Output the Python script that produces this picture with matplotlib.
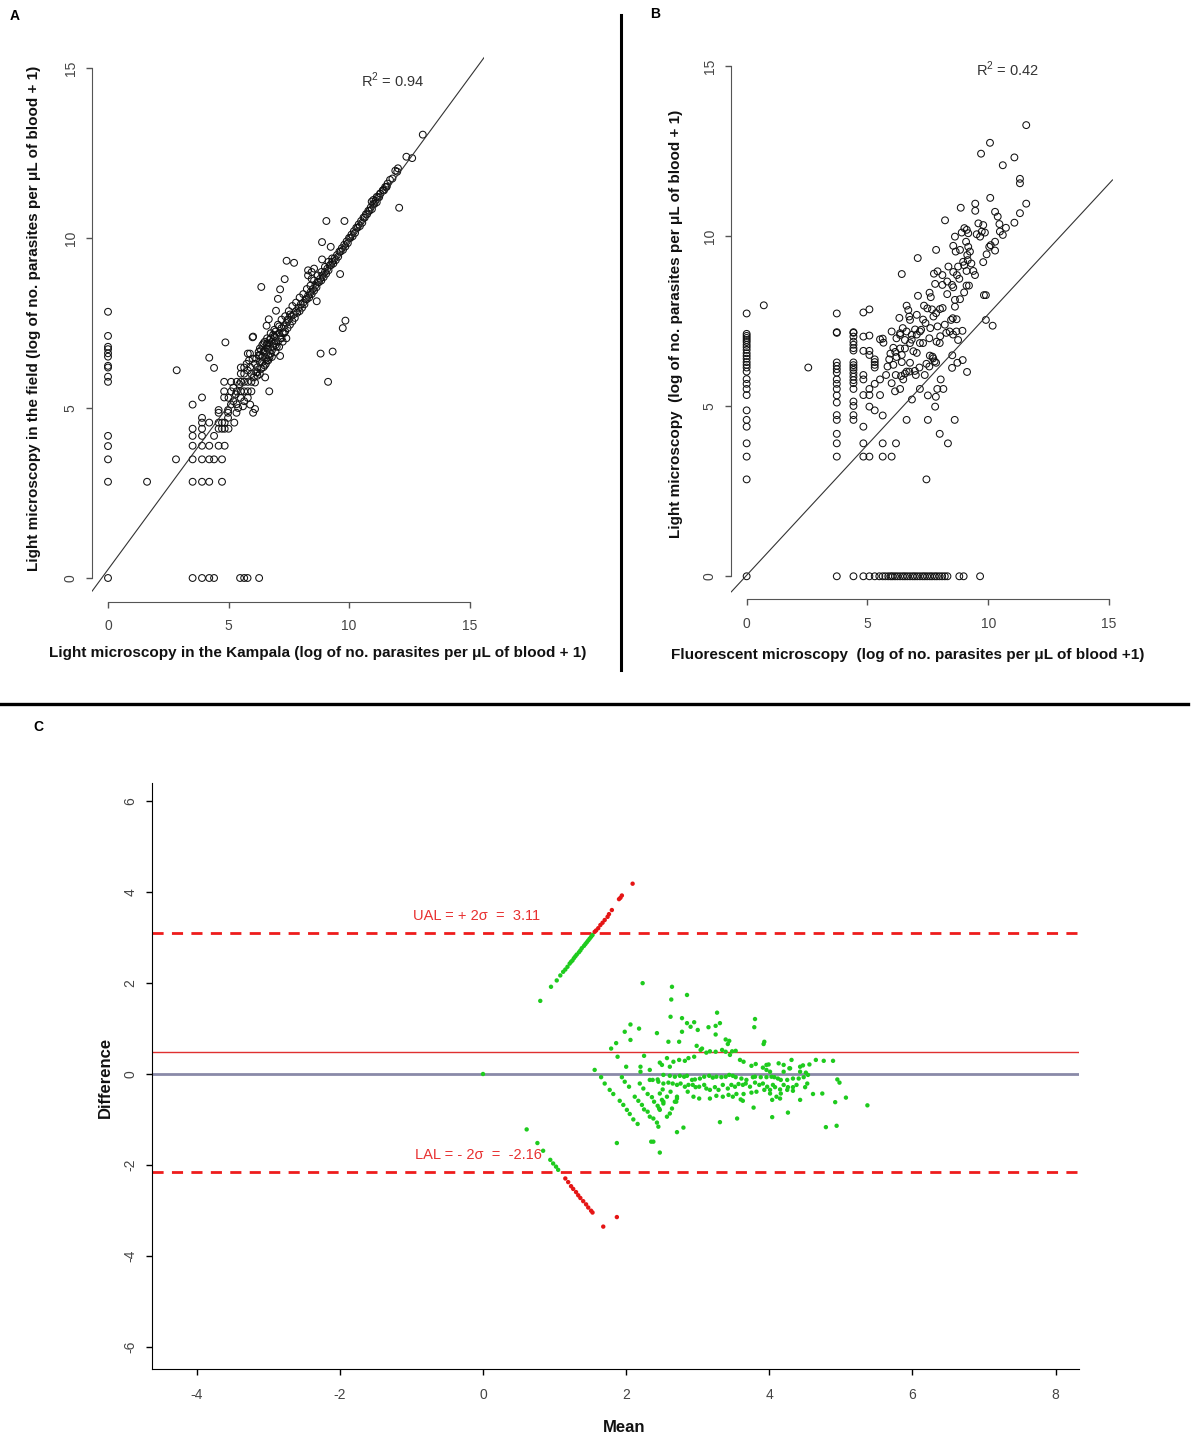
import matplotlib
matplotlib.use("Agg")
import matplotlib.pyplot as plt
from matplotlib.lines import Line2D

plt.rcParams["font.family"] = ["Liberation Sans", "DejaVu Sans"]
plt.rcParams["mathtext.fontset"] = "custom"
plt.rcParams["mathtext.rm"] = "Liberation Sans"
plt.rcParams["axes.unicode_minus"] = False

# ---------------- panel A : field vs Kampala light microscopy ----------------
a_col0_field = [7.83, 7.12, 6.80, 6.73, 6.61, 6.51, 6.24, 6.19, 5.92, 5.77,
                4.18, 3.88, 3.49, 2.83, 0.0]
a_row0_kampala = [3.51, 3.90, 4.20, 4.40, 5.48, 5.65, 5.79, 6.27]
a_spread = [(2.85, 6.11), (1.62, 2.83), (2.82, 3.49), (3.51, 5.10), (3.90, 5.31), (3.51, 4.39),
            (3.90, 4.39), (3.90, 4.57), (3.90, 4.71), (4.20, 4.57), (3.51, 4.18), (3.90, 4.18),
            (4.40, 4.18), (3.51, 3.89), (3.90, 3.89), (4.20, 3.89), (4.59, 3.89), (4.84, 3.89),
            (3.51, 3.49), (3.90, 3.49), (4.20, 3.49), (4.40, 3.49), (4.73, 3.49), (3.51, 2.83),
            (3.90, 2.83), (4.20, 2.83), (4.73, 2.83), (4.59, 4.94), (4.59, 4.86), (4.98, 4.94),
            (4.98, 4.86), (4.98, 4.71), (4.59, 4.57), (4.73, 4.57), (4.84, 4.57), (4.59, 4.39),
            (4.73, 4.39), (4.84, 4.39), (5.00, 4.39), (5.24, 4.57), (5.33, 4.86), (5.33, 5.11),
            (4.82, 5.77), (5.11, 5.77), (5.34, 5.77), (5.51, 5.77), (4.82, 5.49), (5.11, 5.49),
            (5.34, 5.49), (5.51, 5.49), (4.82, 5.31), (5.51, 6.19), (5.51, 6.01), (4.20, 6.48),
            (4.40, 6.18), (4.87, 6.93), (6.00, 7.08), (6.02, 7.10), (5.89, 6.60), (6.36, 8.56),
            (6.67, 7.61), (6.58, 7.42), (6.97, 7.86), (7.05, 8.21), (7.14, 8.49), (7.33, 8.79),
            (7.41, 9.33), (7.72, 9.27), (8.30, 9.05), (8.30, 8.90), (8.45, 9.00), (8.55, 9.10),
            (8.45, 8.80), (8.88, 9.88), (9.24, 9.74), (8.88, 9.37), (8.66, 8.14), (9.63, 8.94),
            (9.85, 7.57), (9.74, 7.35), (8.82, 6.60), (9.32, 6.66), (9.13, 5.77), (7.14, 6.53),
            (6.69, 5.49), (6.10, 4.97), (6.02, 4.86), (6.52, 5.90), (9.06, 10.50), (9.81, 10.50),
            (12.08, 10.89), (13.06, 13.04), (12.38, 12.39), (12.62, 12.35), (12.03, 12.05),
            (11.92, 11.98), (5.80, 6.60)]
a_cluster = [(5.65, 5.77), (5.80, 5.77), (5.95, 5.77), (5.65, 5.49), (5.80, 5.49), (5.95, 5.49),
             (5.50, 5.30), (5.65, 5.20), (5.80, 5.30), (5.90, 5.10), (5.60, 5.05), (5.40, 5.00),
             (5.65, 6.01), (5.80, 6.10), (5.90, 6.20), (5.95, 6.00), (6.05, 5.90), (6.15, 6.05),
             (5.65, 6.19), (5.75, 6.30), (5.85, 6.40), (6.00, 6.45), (6.10, 6.30), (6.20, 6.20),
             (6.30, 6.35), (6.25, 6.55), (6.40, 6.50), (6.35, 6.70), (6.50, 6.65), (6.10, 5.75),
             (6.20, 5.95), (5.20, 5.20), (5.30, 5.40), (5.10, 5.10), (5.00, 5.30), (5.20, 5.60),
             (5.45, 5.70), (6.30, 6.00), (6.45, 6.20), (6.60, 6.40), (6.60, 6.90), (6.70, 7.00),
             (6.80, 6.70), (6.90, 6.90), (7.00, 6.80), (6.55, 6.30), (6.70, 6.50),
             (6.15, 6.45), (6.25, 6.65), (6.40, 6.85), (6.50, 6.95), (6.65, 6.75), (6.85, 7.15),
             (6.95, 7.25), (7.10, 7.40), (7.20, 7.05), (7.30, 7.20), (7.45, 7.60), (7.55, 7.75)]
a_band_kampala = [6.5, 6.6, 6.7, 6.8, 6.9, 7.0, 7.1, 7.2, 7.3, 7.4, 7.5, 7.6, 7.7, 7.8, 7.9,
                  8.0, 8.1, 8.2, 8.3, 8.4, 8.5, 8.6, 8.7, 8.8, 8.9, 9.0, 9.1, 9.2, 9.3, 9.4,
                  9.5, 9.6, 9.7, 9.8, 9.9, 10.0, 10.1, 10.2, 10.3, 10.4, 10.5, 10.6, 10.7,
                  10.8, 10.9, 11.0, 11.1, 11.2, 11.3, 11.4, 11.5, 11.6, 11.8, 12.0,
                  6.4, 6.55, 6.65, 6.75, 6.85, 6.95, 7.05, 7.15, 7.25, 7.35, 7.45, 7.55, 7.65,
                  7.75, 7.85, 7.95, 8.05, 8.15, 8.25, 8.35, 8.45, 8.55, 8.65, 8.75, 8.85, 8.95,
                  9.05, 9.15, 9.25, 9.35, 9.45, 9.55, 9.65, 9.75, 9.85, 9.95, 10.05, 10.15,
                  10.25, 10.35, 10.45, 10.55, 10.65, 10.75, 10.85, 10.95, 11.05, 11.15, 11.25,
                  11.45, 11.55,
                  6.3, 6.45, 6.6, 6.75, 6.9, 7.05, 7.2, 7.35, 7.5, 7.65, 7.8, 7.95, 8.1, 8.25,
                  8.4, 8.55, 8.7, 8.85, 9.0, 9.15, 9.3,
                  6.2, 6.35, 6.5, 6.65, 6.8, 6.95, 7.1, 7.25, 7.4, 6.3, 6.45, 6.6, 6.75, 6.9,
                  11.7, 11.56, 11.42, 11.29, 11.15, 11.01, 10.94]
a_band_field = [6.7, 6.75, 6.9, 6.95, 7.1, 7.15, 7.2, 7.35, 7.4, 7.5, 7.6, 7.7, 7.75, 7.85, 7.95,
                8.05, 8.1, 8.2, 8.3, 8.4, 8.5, 8.6, 8.7, 8.8, 8.9, 9.0, 9.1, 9.2, 9.3, 9.4,
                9.5, 9.6, 9.7, 9.8, 9.9, 10.0, 10.1, 10.2, 10.3, 10.4, 10.5, 10.6, 10.7,
                10.8, 10.9, 11.0, 11.1, 11.2, 11.3, 11.4, 11.5, 11.6, 11.75, 11.95,
                6.35, 6.45, 6.55, 6.6, 6.8, 6.85, 6.95, 7.05, 7.2, 7.25, 7.35, 7.45, 7.55,
                7.65, 7.8, 7.85, 7.95, 8.05, 8.2, 8.25, 8.35, 8.45, 8.55, 8.7, 8.75, 8.85,
                8.95, 9.05, 9.2, 9.25, 9.35, 9.45, 9.6, 9.65, 9.75, 9.85, 10.0, 10.05,
                10.15, 10.3, 10.35, 10.45, 10.6, 10.7, 10.8, 10.85, 11.0, 11.05, 11.2,
                11.4, 11.5,
                6.75, 6.9, 7.05, 7.2, 7.3, 7.45, 7.6, 7.7, 7.85, 8.0, 8.1, 8.25, 8.35, 8.5,
                8.6, 8.75, 8.9, 9.0, 9.15, 9.3, 9.4,
                6.05, 6.15, 6.25, 6.4, 6.5, 6.65, 6.8, 6.95, 7.05, 6.55, 6.65, 6.85, 7.05, 7.1,
                11.71, 11.51, 11.41, 11.31, 11.21, 11.12, 11.07]
a_fit = (0.25, 0.965)   # intercept, slope
a_r2 = "0.94"

# ---------------- panel B : light vs fluorescent microscopy ----------------
b_col0_light = [7.73, 7.13, 7.07, 7.01, 6.95, 6.89, 6.81, 6.74, 6.66, 6.56, 6.48, 6.40, 6.30,
                6.22, 6.14, 6.02, 5.80, 5.66, 5.51, 5.33, 4.88, 4.60, 4.40, 3.91, 3.52, 2.85, 0.0]
b_row0_fluor = [3.73, 4.42, 4.83, 5.08, 5.30, 5.49, 5.63, 5.74, 5.86, 5.96, 6.04, 6.14, 6.24,
                6.35, 6.46, 6.55, 6.65, 6.76, 6.87, 6.96, 7.06, 7.17, 7.28, 7.37, 7.47, 7.58,
                7.67, 7.78, 7.87, 7.98, 8.09, 8.20, 8.31, 8.80, 8.98, 9.66]
b_col37_light = [7.73, 7.18, 7.16, 6.29, 6.19, 6.09, 5.99, 5.79, 5.66, 5.51, 5.32, 5.11, 4.74,
                 4.60, 4.19, 3.91, 3.52]
b_col44_light = [7.18, 7.05, 7.16, 6.90, 6.81, 6.71, 6.64, 6.29, 6.21, 6.14, 6.07, 5.97, 5.87,
                 5.77, 5.68, 5.51, 5.14, 5.01, 4.74, 4.60]
b_cloud = [(0.71, 7.97), (2.55, 6.14), (4.83, 7.76), (4.83, 7.05), (4.83, 6.63), (4.83, 5.92),
           (4.83, 5.79), (4.83, 5.33), (4.83, 4.40), (4.83, 3.91), (4.83, 3.52), (5.08, 7.85),
           (5.08, 7.08), (5.08, 6.63), (5.08, 6.51), (5.08, 5.51), (5.08, 5.33), (5.08, 4.99),
           (5.08, 3.52), (5.30, 6.38), (5.30, 6.30), (5.30, 6.22), (5.30, 6.14), (5.30, 5.66),
           (5.30, 4.88), (5.52, 6.97), (5.63, 6.99), (5.66, 6.87), (5.52, 5.79), (5.52, 5.33),
           (5.77, 5.92), (5.63, 4.73), (5.63, 3.91), (5.63, 3.52), (6.18, 3.91), (6.00, 3.52),
           (7.44, 2.85), (6.62, 4.60), (7.50, 4.60), (8.61, 4.60), (7.99, 4.19), (8.33, 3.91),
           (6.84, 5.20), (7.17, 5.51), (7.50, 5.32), (7.83, 5.28), (7.80, 4.99), (7.89, 5.51),
           (8.14, 5.51), (8.03, 5.79), (8.50, 6.13), (8.72, 6.28), (8.94, 6.36), (9.12, 6.01),
           (8.51, 6.50), (8.75, 6.95), (6.62, 6.02), (7.00, 5.92), (7.15, 6.14), (7.37, 5.92),
           (7.56, 6.17), (7.72, 6.41), (7.84, 6.28), (6.00, 5.68), (6.14, 5.44), (6.35, 5.51),
           (6.48, 5.79), (6.17, 5.92), (6.39, 5.89), (6.73, 6.02), (5.90, 6.38), (6.07, 6.22),
           (6.20, 6.45), (6.42, 6.51), (6.42, 6.30), (6.07, 6.72), (6.35, 6.70), (6.55, 6.70),
           (6.76, 6.86), (6.90, 6.62), (7.04, 6.57), (7.17, 6.86), (7.30, 6.86), (7.58, 6.49),
           (7.69, 6.46), (7.78, 6.32), (7.99, 6.86), (8.01, 7.06), (8.26, 7.16), (8.54, 7.11),
           (8.68, 7.20), (8.93, 7.22), (7.04, 7.11), (6.62, 7.20), (7.17, 7.20), (6.35, 7.10),
           (6.83, 6.96), (7.56, 7.00), (7.86, 6.90), (7.44, 6.25), (6.96, 6.04), (6.76, 6.28),
           (6.55, 5.96), (5.83, 6.17), (11.57, 13.27), (10.07, 12.75), (9.70, 12.43),
           (11.08, 12.32), (10.60, 12.09), (11.31, 11.69), (11.31, 11.56), (11.57, 10.96),
           (10.08, 11.13), (11.31, 10.68), (11.08, 10.40), (9.46, 10.96), (9.46, 10.75),
           (8.86, 10.84), (8.21, 10.47), (10.28, 10.72), (10.39, 10.58), (10.46, 10.36),
           (10.73, 10.25), (10.48, 10.14), (10.60, 10.04), (10.28, 9.84), (10.28, 9.58),
           (9.59, 10.38), (9.79, 10.33), (9.73, 10.14), (9.86, 10.11), (9.52, 10.06),
           (9.66, 9.99), (9.11, 10.19), (9.01, 10.24), (9.17, 10.09), (8.62, 9.99), (8.90, 10.11),
           (9.08, 9.84), (9.17, 9.69), (9.24, 9.55), (9.13, 9.45), (8.83, 9.60), (8.55, 9.72),
           (8.65, 9.55), (10.10, 9.74), (10.04, 9.69), (9.93, 9.47), (9.79, 9.24), (7.84, 9.60),
           (7.08, 9.36), (6.42, 8.89), (8.35, 9.11), (8.55, 8.95), (8.75, 9.11), (8.96, 9.25),
           (8.70, 8.86), (9.00, 9.15), (9.10, 8.98), (9.38, 8.98), (9.45, 8.86), (9.30, 9.20),
           (9.15, 9.30), (7.75, 8.90), (7.90, 8.97), (8.10, 8.86), (7.80, 8.60), (8.10, 8.57),
           (8.30, 8.67), (8.50, 8.57), (8.30, 8.30), (8.55, 8.50), (8.80, 8.75), (9.00, 8.35),
           (9.10, 8.55), (9.20, 8.55), (7.09, 8.25), (7.57, 8.34), (7.62, 8.21), (7.34, 7.96),
           (7.48, 7.88), (7.67, 7.85), (7.73, 7.64), (8.00, 7.86), (8.11, 7.89), (7.84, 7.74),
           (8.46, 7.54), (8.53, 7.59), (8.69, 7.56), (8.83, 8.15), (8.62, 8.13), (8.62, 7.93),
           (9.82, 8.27), (9.90, 8.27), (6.62, 7.96), (6.69, 7.83), (6.73, 7.64), (6.76, 7.54),
           (7.04, 7.69), (7.22, 7.25), (6.97, 7.26), (6.83, 7.10), (6.46, 7.30), (6.35, 7.15),
           (6.32, 7.60), (9.90, 7.54), (10.18, 7.37), (7.40, 7.45), (7.60, 7.30), (7.90, 7.35),
           (8.20, 7.40), (8.40, 7.20), (7.30, 7.55), (6.00, 7.20), (6.20, 7.00), (6.55, 6.95),
           (5.95, 6.55), (6.15, 6.60)]
b_fit = (0.03, 0.768)
b_r2 = "0.42"

# ---------------- panel C : Bland-Altman ----------------
c_ual = 3.11
c_lal = -2.16
c_bias = 0.475
c_points = [(0.0, 0.0),
            (0.80, 1.61), (0.95, 1.92), (1.03, 2.06), (1.08, 2.17), (1.12, 2.25), (1.15, 2.30),
            (1.18, 2.36), (1.21, 2.43), (1.23, 2.47), (1.25, 2.50), (1.27, 2.55), (1.29, 2.59),
            (1.31, 2.63), (1.34, 2.68), (1.36, 2.72), (1.38, 2.77), (1.41, 2.82), (1.43, 2.86),
            (1.45, 2.90), (1.47, 2.94), (1.49, 2.98), (1.51, 3.02), (1.53, 3.06),
            (1.56, 3.13), (1.58, 3.16), (1.61, 3.21), (1.64, 3.28), (1.67, 3.33), (1.70, 3.39),
            (1.74, 3.46), (1.76, 3.52), (1.80, 3.61), (1.90, 3.85), (1.92, 3.88), (1.94, 3.93),
            (2.09, 4.19),
            (0.61, -1.22), (0.76, -1.52), (0.84, -1.69), (0.94, -1.89), (0.98, -1.97),
            (1.02, -2.04), (1.05, -2.11), (1.15, -2.30), (1.19, -2.38), (1.23, -2.47),
            (1.26, -2.53), (1.30, -2.60), (1.33, -2.67), (1.36, -2.73), (1.40, -2.80),
            (1.44, -2.87), (1.47, -2.94), (1.51, -3.01), (1.53, -3.05), (1.68, -3.36),
            (1.87, -3.15),
            (2.23, 2.00), (2.64, 1.92), (2.63, 1.64), (2.85, 1.74), (2.62, 1.26), (2.78, 1.23),
            (2.85, 1.12), (2.95, 1.14), (3.00, 0.97), (2.90, 1.04), (2.78, 0.93), (2.74, 0.71),
            (2.59, 0.71), (3.27, 1.35), (3.31, 1.12), (3.25, 1.06), (3.15, 1.03), (3.25, 0.87),
            (3.39, 0.76), (3.44, 0.73), (3.42, 0.66), (3.80, 1.21), (3.79, 1.03), (3.93, 0.71),
            (3.92, 0.66), (2.06, 1.09), (1.98, 0.93), (2.18, 1.00), (2.06, 0.75), (2.43, 0.90),
            (1.86, 0.68), (1.79, 0.56), (1.88, 0.38), (2.00, 0.16), (1.56, 0.09),
            (2.25, 0.40), (2.20, 0.16), (2.20, 0.05), (2.33, 0.09), (2.47, 0.25), (2.57, 0.35),
            (2.50, 0.20), (2.37, -0.13), (2.44, -0.12), (2.61, 0.16), (2.66, 0.27), (2.74, 0.31),
            (2.82, 0.29), (2.87, 0.35), (2.95, 0.38), (3.04, 0.53), (3.06, 0.56), (2.985, 0.62),
            (3.12, 0.47), (3.17, 0.50), (3.25, 0.49), (3.34, 0.53), (3.39, 0.49), (3.45, 0.42),
            (3.48, 0.50), (3.53, 0.51), (3.59, 0.31), (3.64, 0.27), (3.75, 0.18), (3.81, 0.22),
            (3.91, 0.14), (3.96, 0.20), (3.99, 0.21), (4.13, 0.235), (4.20, 0.20), (4.31, 0.31),
            (4.29, 0.125), (4.43, 0.16), (4.47, 0.19), (4.56, 0.21), (4.65, 0.31), (4.76, 0.29),
            (4.89, 0.29), (3.96, 0.09), (4.01, 0.05), (4.07, -0.07), (4.20, 0.05), (4.28, 0.125),
            (4.43, 0.05), (4.51, 0.03),
            (2.52, -0.02), (2.61, -0.04), (2.68, -0.06), (2.75, -0.04), (2.81, -0.06),
            (2.85, -0.04), (2.92, -0.13), (2.96, -0.12), (3.03, -0.10), (3.09, -0.06),
            (3.16, -0.04), (3.21, -0.08), (3.26, -0.06), (3.33, -0.07), (3.39, -0.06),
            (3.44, -0.02), (3.49, -0.04), (3.53, -0.07), (3.61, -0.10), (3.68, -0.13),
            (3.77, -0.07), (3.80, -0.06), (3.88, -0.07), (3.96, -0.07), (4.03, -0.06),
            (4.12, -0.10), (4.16, -0.13), (4.25, -0.13), (4.33, -0.10), (4.41, -0.10),
            (4.48, -0.07), (4.54, -0.02), (4.95, -0.12), (4.98, -0.19),
            (2.33, -0.13), (2.45, -0.17), (2.52, -0.21), (2.59, -0.19), (2.65, -0.21),
            (2.71, -0.24), (2.76, -0.21), (2.82, -0.28), (2.87, -0.24), (2.93, -0.24),
            (2.97, -0.29), (3.02, -0.28), (3.09, -0.24), (3.12, -0.32), (3.17, -0.35),
            (3.24, -0.29), (3.29, -0.35), (3.35, -0.24), (3.42, -0.32), (3.47, -0.24),
            (3.52, -0.28), (3.57, -0.22), (3.63, -0.24), (3.67, -0.21), (3.73, -0.28),
            (3.80, -0.19), (3.86, -0.24), (3.91, -0.21), (3.97, -0.28), (4.05, -0.24),
            (4.08, -0.29), (4.15, -0.34), (4.20, -0.24), (4.26, -0.29), (4.33, -0.29),
            (4.38, -0.24), (4.50, -0.29), (4.53, -0.21), (4.61, -0.44), (4.74, -0.43),
            (3.82, -0.39), (3.93, -0.35), (4.01, -0.43), (4.10, -0.50), (4.16, -0.43),
            (4.25, -0.35), (4.33, -0.37), (3.54, -0.44), (3.64, -0.44), (3.49, -0.50),
            (3.17, -0.54), (3.26, -0.48), (3.02, -0.54), (2.94, -0.50), (2.86, -0.39),
            (2.71, -0.50), (2.68, -0.61), (2.62, -0.39), (2.57, -0.50), (2.51, -0.34),
            (2.47, -0.43), (2.50, -0.57), (2.52, -0.65), (2.46, -0.76), (2.57, -0.94),
            (2.61, -0.87), (2.64, -0.76), (2.71, -0.54), (2.70, -0.61), (2.80, -1.18),
            (2.71, -1.28), (2.38, -1.49), (2.47, -1.73), (2.35, -1.49), (1.87, -1.52),
            (3.31, -1.06), (3.55, -0.98), (3.78, -0.74), (4.04, -0.95), (4.26, -0.85),
            (4.79, -1.17), (4.94, -1.14), (4.92, -0.62), (5.07, -0.52), (5.37, -0.69),
            (3.60, -0.56), (3.63, -0.59), (4.04, -0.57), (4.15, -0.54), (4.43, -0.57),
            (4.01, -0.35), (3.75, -0.41), (3.35, -0.50), (3.43, -0.46),
            (1.65, -0.07), (1.70, -0.21), (1.77, -0.35), (1.82, -0.44), (1.91, -0.59),
            (1.96, -0.68), (2.01, -0.79), (2.05, -0.88), (2.10, -1.00), (2.16, -1.10),
            (1.94, -0.07), (1.98, -0.17), (2.04, -0.28), (2.12, -0.50), (2.17, -0.59),
            (2.22, -0.68), (2.25, -0.78), (2.30, -0.83), (2.33, -0.94), (2.38, -0.98),
            (2.43, -1.07), (2.45, -1.16), (2.19, -0.21), (2.24, -0.32), (2.30, -0.44),
            (2.36, -0.51), (2.39, -0.61), (2.44, -0.70), (2.47, -0.79), (2.52, -0.61)]

W, H = 1200, 1444
fig = plt.figure(figsize=(12, 14.44), dpi=100)


def px_axes(l, t, r, b):
    return fig.add_axes([l / W, 1 - b / H, (r - l) / W, (b - t) / H])


def fig_text(x, y, s, **kw):
    fig.text(x / W, 1 - y / H, s, **kw)


def style_xy(ax):
    for s in ["top", "right"]:
        ax.spines[s].set_visible(False)
    for s in ["left", "bottom"]:
        ax.spines[s].set_bounds(0, 15)
        ax.spines[s].set_color("#555555")
    ax.set_xticks([0, 5, 10, 15])
    ax.set_yticks([0, 5, 10, 15])
    ax.set_xticklabels(["0", "5", "10", "15"])
    ax.set_yticklabels(["0", "5", "10", "15"], rotation=90, va="center")
    ax.tick_params(direction="out", length=4.5, width=1, color="#555555",
                   labelcolor="#444444", labelsize=10)
    ax.tick_params(axis="x", pad=8)
    ax.tick_params(axis="y", pad=6)


circle_kw = dict(s=24, facecolors="none", edgecolors="#111111", linewidths=0.75)

# panel A
axA = px_axes(92.1, 47.6, 484.0, 601.8)
axA.set_xlim(-0.66, 15.6)
axA.set_ylim(-0.7, 15.6)
style_xy(axA)
axA.scatter([0.0] * len(a_col0_field), a_col0_field, **circle_kw)
axA.scatter(a_row0_kampala, [0.0] * len(a_row0_kampala), **circle_kw)
sx, sy = zip(*(a_spread + a_cluster))
axA.scatter(sx, sy, **circle_kw)
axA.scatter(a_band_kampala, a_band_field, **circle_kw)
axA.axline((0, a_fit[0]), slope=a_fit[1], color="#333333", lw=0.8)
axA.text(11.8, 14.65, "R$^{2}$ = " + a_r2, ha="center", va="center", fontsize=10.5,
         color="#333333")

# panel B
axB = px_axes(731.3, 45.9, 1112.5, 599.4)
axB.set_xlim(-0.635, 15.14)
axB.set_ylim(-0.68, 15.6)
style_xy(axB)
axB.scatter([0.0] * len(b_col0_light), b_col0_light, **circle_kw)
axB.scatter(b_row0_fluor, [0.0] * len(b_row0_fluor), **circle_kw)
axB.scatter([3.73] * len(b_col37_light), b_col37_light, **circle_kw)
axB.scatter([4.42] * len(b_col44_light), b_col44_light, **circle_kw)
bx, by = zip(*b_cloud)
axB.scatter(bx, by, **circle_kw)
axB.axline((0, b_fit[0]), slope=b_fit[1], color="#333333", lw=0.8)
axB.text(10.8, 14.9, "R$^{2}$ = " + b_r2, ha="center", va="center", fontsize=10.5,
         color="#333333")

# panel C
axC = px_axes(152, 783, 1079, 1369)
axC.set_xlim(-4.624, 8.326)
axC.set_ylim(-6.495, 6.407)
for s in ["top", "right"]:
    axC.spines[s].set_visible(False)
axC.set_xticks([-4, -2, 0, 2, 4, 6, 8])
axC.set_xticklabels(["-4", "-2", "0", "2", "4", "6", "8"])
axC.set_yticks([-6, -4, -2, 0, 2, 4, 6])
axC.set_yticklabels(["-6", "-4", "-2", "0", "2", "4", "6"], rotation=90, va="center")
axC.tick_params(direction="out", length=4.5, width=1, labelcolor="#444444", labelsize=10)
axC.tick_params(axis="x", pad=9)
axC.tick_params(axis="y", pad=6)
axC.axhline(0, color="#8a8aa8", lw=2, zorder=1)
axC.axhline(c_bias, color="#e03030", lw=1, zorder=1)
axC.axhline(c_ual, color="#ee1c1c", lw=2, dashes=(4, 3), zorder=1)
axC.axhline(c_lal, color="#ee1c1c", lw=2, dashes=(4, 3), zorder=1)
cm, cd = zip(*c_points)
cols = ["#e51515" if (d > c_ual or d < c_lal) else "#1ecb1e" for d in cd]
axC.scatter(cm, cd, s=10, c=cols, linewidths=0, zorder=3)
axC.text(-0.09, 3.48, "UAL = + 2σ  =  3.11", color="#e83030", ha="center", va="center",
         fontsize=10.5)
axC.text(-0.06, -1.78, "LAL = - 2σ  =  -2.16", color="#e83030", ha="center", va="center",
         fontsize=10.5)

# axis titles
lab_kw = dict(ha="center", va="center", fontweight="bold", fontsize=11, color="#111111")
fig_text(318, 653, "Light microscopy in the Kampala (log of no. parasites per μL of blood + 1)",
         **lab_kw)
fig_text(34, 318, "Light microscopy in the field (log of no. parasites per μL of blood + 1)",
         rotation=90, **lab_kw)
fig_text(908, 655, "Fluorescent microscopy  (log of no. parasites per μL of blood +1)",
         **lab_kw)
fig_text(676, 324, "Light microscopy  (log of no. parasites per μL of blood + 1)",
         rotation=90, **lab_kw)
c_lab_kw = dict(lab_kw, fontsize=12)
fig_text(624, 1427, "Mean", **c_lab_kw)
fig_text(105, 1077, "Difference", rotation=90, **c_lab_kw)

panel_kw = dict(ha="center", va="center", fontweight="bold", fontsize=10)
fig_text(15, 16, "A", **panel_kw)
fig_text(655, 14, "B", **panel_kw)
fig_text(38, 727, "C", **panel_kw)

# panel dividers
fig.add_artist(Line2D([621 / W, 621 / W], [1 - 15 / H, 1 - 670 / H], color="black", lw=2.2,
                      transform=fig.transFigure))
fig.add_artist(Line2D([0, 1188 / W], [1 - 704 / H, 1 - 704 / H], color="black", lw=2.4,
                      transform=fig.transFigure))

fig.savefig("out.png", dpi=100)
